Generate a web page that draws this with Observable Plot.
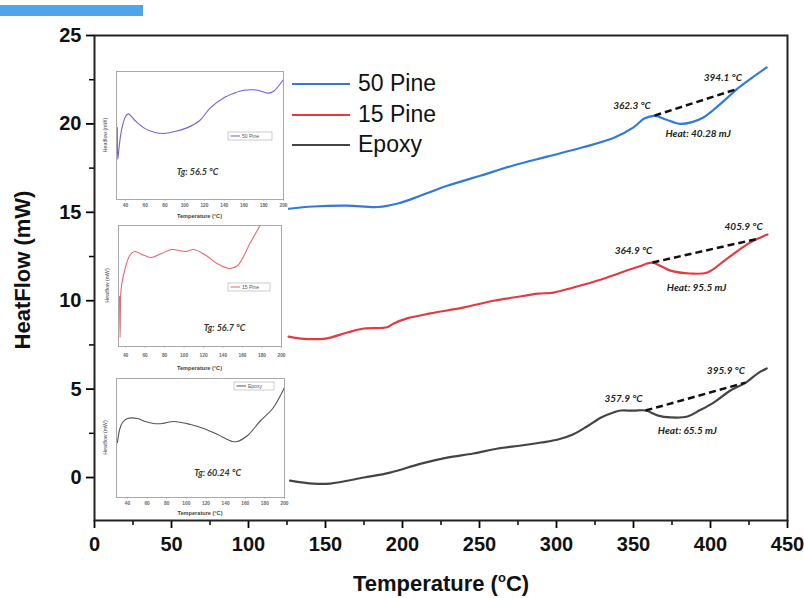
<!DOCTYPE html>
<html><head><meta charset="utf-8">
<script src="https://cdn.jsdelivr.net/npm/d3@7"></script>
<script src="https://cdn.jsdelivr.net/npm/@observablehq/plot@0.6"></script>
<style>
body{margin:0;background:#fff;}
#wrap{position:relative;width:804px;height:598px;overflow:hidden;font-family:"Liberation Sans",Arial,sans-serif;background:#fff;}
.abs{position:absolute;}
</style></head><body><div id="wrap"></div>
<script>
// ---------- main chart data ----------
const seriesNames = ["50 Pine", "15 Pine", "Epoxy"];
const seriesColors = ["#2f7bd6", "#e23b40", "#444444"];

const tempPine50 = [126,142,164,184,197,212,229,251,272,294,316,337,350,357,364,371,380,388,395,402,410,417.5,426,436.5];
const flowPine50 = [15.2,15.33,15.38,15.3,15.5,15.95,16.5,17.08,17.65,18.15,18.65,19.2,19.8,20.3,20.45,20.25,20.0,20.1,20.35,20.8,21.4,22.0,22.55,23.2];

const tempPine15 = [126,134,150,164,175,190,194,203,218,240,259,272,288,298,311,329,342,354,362,368,374,387,398,411,424,430.5,437];
const flowPine15 = [7.97,7.86,7.86,8.2,8.43,8.5,8.7,9.0,9.28,9.62,10.0,10.18,10.4,10.46,10.75,11.2,11.6,11.95,12.15,11.95,11.7,11.54,11.6,12.4,13.2,13.5,13.74];

const tempEpoxy = [127,142,153,175,192,212,229,246,262,277,290,301,311,320,329,337,342,350,358,366,374,385,393,402,413,423,430.5,436.5];
const flowEpoxy = [-0.17,-0.34,-0.34,0.0,0.28,0.79,1.13,1.36,1.64,1.81,1.98,2.15,2.45,2.9,3.4,3.68,3.79,3.78,3.79,3.5,3.4,3.45,3.8,4.24,4.92,5.37,5.88,6.17];

// baseline (dashed) segments: start/end temperature and heat flow
const dashT1 = [363.6, 362.3, 357.8];
const dashF1 = [20.47, 12.16, 3.79];
const dashT2 = [417.5, 430.5, 422.7];
const dashF2 = [21.98, 13.5, 5.37];

// annotations
const noteText = ["362.3 °C","394.1 °C","Heat: 40.28 mJ","364.9 °C","405.9 °C","Heat: 95.5 mJ","357.9 °C","395.9 °C","Heat: 65.5 mJ"];
const noteT = [349, 408, 392, 350, 421.5, 391, 343.5, 410, 385];
const noteF = [21.0, 22.6, 19.45, 12.8, 14.2, 10.75, 4.46, 6.05, 2.65];

const xTicks = [0,50,100,150,200,250,300,350,400,450];
const xMinor = [25,75,125,175,225,275,325,375,425];
const yTicks = [0,5,10,15,20,25];
const yMinor = [2.5,7.5,12.5,17.5,22.5];

// ---------- inset data ----------
const inset50T = [31.8,32.3,33.5,36,40,43,50,60,70,78.5,90,102.8,115,126,141,150,159.5,168,174,184.8,190,200];
const inset50F = [73,41,52,70,84,87,80,72,68,67,69,73,80,93,104,108,111,111.5,111,108,110,122];

const inset15T = [33.8,34.3,35.0,36,39,44.2,49.4,57,66,77,87,101.7,110,122.6,134,146.7,155,167.6,178,190];
const inset15F = [50,9,52,62,76,91,95,92,89,93,97,95,97,91,83,78,81,103,121,142];

const insetEpT = [29.8,32,34.9,40,50.2,58,66.5,75.7,87,104.3,117.6,131.8,147,152,162.4,175.7,188,200];
const insetEpF = [55,68,75,79,79,76,74,74,76,73,69,63,56,56,62,77,89,110];

const insetTicks = [40,60,80,100,120,140,160,180,200];
const insetTg = ["Tg: 56.5 °C", "Tg: 56.7 °C", "Tg: 60.24 °C"];
const insetColors = ["#6f63d8", "#f0626e", "#555555"];

// ---------- build ----------
const zip = (ts, fs, name) => ts.map((t, i) => ({t, f: fs[i], name}));
const mainRows = [
  ...zip(tempPine50, flowPine50, seriesNames[0]),
  ...zip(tempPine15, flowPine15, seriesNames[1]),
  ...zip(tempEpoxy, flowEpoxy, seriesNames[2])
];
const dashRows = dashT1.map((t, i) => ({x1: t, y1: dashF1[i], x2: dashT2[i], y2: dashF2[i]}));
const noteRows = noteText.map((s, i) => ({s, t: noteT[i], f: noteF[i]}));

const wrap = document.getElementById("wrap");

const main = Plot.plot({
  width: 804, height: 598,
  marginLeft: 94, marginRight: 17, marginTop: 35, marginBottom: 78,
  x: {domain: [0, 450]},
  y: {domain: [-2.43, 25]},
  color: {domain: seriesNames, range: seriesColors},
  style: {fontFamily: "'Liberation Sans', Arial, sans-serif", background: "white", overflow: "visible"},
  marks: [
    Plot.axisX({ticks: xTicks, tickSize: 8, tickPadding: 8, fontSize: 20, fontWeight: "bold", label: null, strokeWidth: 1.8, fill: "#111"}),
    Plot.axisX({ticks: xMinor, tickSize: 5, tickFormat: () => "", label: null, strokeWidth: 1.5}),
    Plot.axisY({ticks: yTicks, tickSize: 8, tickPadding: 5, fontSize: 20, fontWeight: "bold", label: null, strokeWidth: 1.8, fill: "#111"}),
    Plot.axisY({ticks: yMinor, tickSize: 5, tickFormat: () => "", label: null, strokeWidth: 1.5}),
    Plot.line(mainRows, {x: "t", y: "f", z: "name", stroke: "name", strokeWidth: 2.2, curve: "catmull-rom"}),
    Plot.link(dashRows, {x1: "x1", y1: "y1", x2: "x2", y2: "y2", stroke: "#111", strokeWidth: 2.5, strokeDasharray: "7,4"}),
    Plot.text(noteRows, {x: "t", y: "f", text: "s", fontSize: 10, fontStyle: "italic", fontWeight: "bold", fontFamily: "Lato, 'Liberation Sans', sans-serif", fill: "#222"}),
    Plot.frame({stroke: "#222", strokeWidth: 2})
  ]
});
wrap.appendChild(main);

// axis titles with superscript
const ms = d3.select(main);
ms.selectAll('g[aria-label$="tick label"] text').attr("font-weight", "bold");
ms.append("text").attr("x", 441).attr("y", 591).attr("text-anchor", "middle")
  .attr("font-size", 22).attr("font-weight", "bold").attr("fill", "#111")
  .call(t => { t.append("tspan").text("Temperature ("); t.append("tspan").attr("font-size", 13).attr("dy", -9).text("o"); t.append("tspan").attr("dy", 9).text("C)"); });
ms.append("text").attr("transform", "translate(30,270) rotate(-90)").attr("text-anchor", "middle")
  .attr("font-size", 22).attr("font-weight", "bold").attr("fill", "#111").text("HeatFlow (mW)");

// decorative blue bar at top-left
const bar = document.createElement("div");
bar.className = "abs";
Object.assign(bar.style, {left: "0px", top: "5px", width: "143px", height: "11px", background: "#4da6ea"});
wrap.appendChild(bar);

// main legend
seriesNames.forEach((n, i) => {
  const y = 84 + i * 30.5;
  const ln = document.createElement("div");
  ln.className = "abs";
  Object.assign(ln.style, {left: "292px", top: (y - 1) + "px", width: "58px", height: "2px", background: seriesColors[i]});
  wrap.appendChild(ln);
  const tx = document.createElement("div");
  tx.className = "abs";
  Object.assign(tx.style, {left: "358px", top: (y - 13) + "px", fontSize: "23px", lineHeight: "24px", color: "#111", whiteSpace: "nowrap"});
  tx.textContent = n;
  wrap.appendChild(tx);
});

// insets
function inset(cfg) {
  const rows = zip(cfg.T, cfg.F, cfg.name);
  const p = Plot.plot({
    width: cfg.w, height: cfg.h,
    marginTop: cfg.mt, marginBottom: cfg.mb, marginLeft: cfg.ml, marginRight: cfg.mr,
    x: {domain: cfg.xd}, y: {domain: cfg.yd, axis: null},
    style: {fontFamily: "'Liberation Sans', Arial, sans-serif", background: "white", overflow: "visible"},
    marks: [
      Plot.axisX({ticks: insetTicks, tickSize: 1.5, tickPadding: cfg.tp, fontSize: 4.8, fontWeight: "bold", label: null, stroke: "#999", fill: "#666"}),
      Plot.line(rows, {x: "t", y: "f", stroke: cfg.color, strokeWidth: 1.1, curve: "catmull-rom", clip: true}),
      Plot.text([cfg.tg], {x: cfg.tgx, y: cfg.tgy, text: d => d, fontSize: 9, fontStyle: "italic", fontWeight: "bold", fontFamily: "Lato, 'Liberation Sans', sans-serif", fill: "#333"}),
      Plot.frame({stroke: "#a0a0a0", strokeWidth: 0.9})
    ]
  });
  p.style.position = "absolute";
  p.style.left = cfg.left + "px";
  p.style.top = cfg.top + "px";
  wrap.appendChild(p);
  const s = d3.select(p);
  const fx0 = cfg.ml, fx1 = cfg.w - cfg.mr, fy0 = cfg.mt, fy1 = cfg.h - cfg.mb;
  s.append("text").attr("x", (fx0 + fx1) / 2).attr("y", fy1 + cfg.ty).attr("text-anchor", "middle")
    .attr("font-size", 5.6).attr("font-weight", "bold").attr("fill", "#444").text("Temperature (°C)");
  s.append("text").attr("transform", `translate(${fx0 - 9},${(fy0 + fy1) / 2}) rotate(-90)`).attr("text-anchor", "middle")
    .attr("font-size", 5.2).attr("fill", "#444").text("Heatflow (mW)");
  const [lx, ly, lw, lh] = cfg.leg;
  s.append("rect").attr("x", lx).attr("y", ly).attr("width", lw).attr("height", lh)
    .attr("fill", "white").attr("stroke", "#aaa").attr("stroke-width", 0.6);
  s.append("line").attr("x1", lx + 2.5).attr("x2", lx + 12).attr("y1", ly + lh / 2).attr("y2", ly + lh / 2)
    .attr("stroke", cfg.color).attr("stroke-width", 1);
  s.append("text").attr("x", lx + 14).attr("y", ly + lh / 2 + 1.8).attr("text-anchor", "start")
    .attr("font-size", 5).attr("fill", "#555").text(cfg.name);
}

inset({name: seriesNames[0], T: inset50T, F: inset50F, color: insetColors[0], tg: insetTg[0], tgx: 113, tgy: 28,
  left: 98, top: 66, w: 190, h: 156, mt: 5, mb: 23, ml: 18, mr: 5, xd: [31, 200], yd: [0, 130], tp: 3, ty: 19, leg: [130, 66, 44, 8]});
inset({name: seriesNames[1], T: inset15T, F: inset15F, color: insetColors[1], tg: insetTg[1], tgx: 141.5, tgy: 18,
  left: 100, top: 220, w: 186, h: 152, mt: 5, mb: 26, ml: 18, mr: 5, xd: [32.7, 200], yd: [0, 121], tp: 6, ty: 24, leg: [128, 63, 42, 8]});
inset({name: seriesNames[2], T: insetEpT, F: insetEpF, color: insetColors[2], tg: insetTg[2], tgx: 131.8, tgy: 24,
  left: 98, top: 373, w: 191, h: 146, mt: 5, mb: 22, ml: 18, mr: 5, xd: [28.8, 200], yd: [0, 119], tp: 2.5, ty: 18, leg: [136, 9, 40, 8]});
</script></body></html>
